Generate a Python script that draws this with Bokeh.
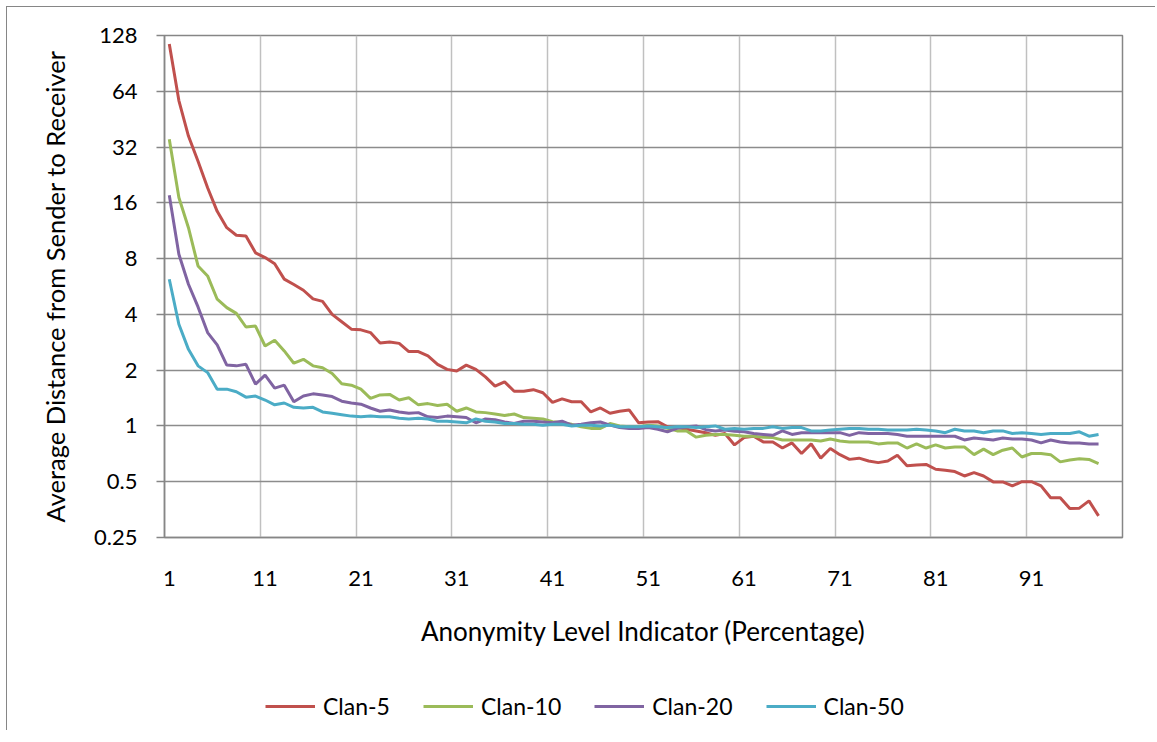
from bokeh.plotting import figure
from bokeh.models import Range1d, FixedTicker, Legend, LegendItem, ColumnDataSource
from bokeh.layouts import column
from bokeh.embed import file_html
from bokeh.resources import INLINE

x_vals = list(range(1, 99))

clan5 = [115, 57, 36.7, 26.8, 19.3, 14.4, 11.75, 10.7, 10.6, 8.6,
         8.1, 7.5, 6.2, 5.8, 5.4, 4.85, 4.7, 4.0, 3.65, 3.33,
         3.3, 3.19, 2.8, 2.84, 2.79, 2.52, 2.52, 2.39, 2.15, 2.02,
         1.98, 2.13, 2.02, 1.84, 1.64, 1.73, 1.54, 1.54, 1.57, 1.51,
         1.34, 1.40, 1.35, 1.35, 1.19, 1.25, 1.17, 1.20, 1.22, 1.04,
         1.05, 1.055, 0.99, 0.98, 0.96, 0.94, 0.92, 0.89, 0.91, 0.79,
         0.865, 0.88, 0.82, 0.82, 0.76, 0.81, 0.71, 0.80, 0.67, 0.755,
         0.70, 0.66, 0.67, 0.647, 0.634, 0.647, 0.695, 0.61, 0.616, 0.62,
         0.584, 0.577, 0.567, 0.537, 0.56, 0.537, 0.499, 0.499, 0.475, 0.50,
         0.50, 0.475, 0.41, 0.41, 0.358, 0.36, 0.394, 0.327]

clan10 = [35.3, 17.1, 11.75, 7.3, 6.45, 4.83, 4.35, 4.05, 3.42, 3.46,
          2.70, 2.90, 2.54, 2.18, 2.29, 2.11, 2.06, 1.92, 1.69, 1.66,
          1.58, 1.41, 1.47, 1.48, 1.38, 1.42, 1.30, 1.32, 1.29, 1.31,
          1.20, 1.25, 1.19, 1.18, 1.16, 1.14, 1.16, 1.11, 1.10, 1.09,
          1.055, 1.04, 1.02, 0.99, 0.97, 0.97, 1.03, 1.00, 0.99, 0.99,
          1.01, 1.00, 0.97, 0.94, 0.94, 0.87, 0.89, 0.90, 0.90, 0.89,
          0.88, 0.88, 0.87, 0.865, 0.84, 0.84, 0.84, 0.84, 0.83, 0.85,
          0.83, 0.82, 0.82, 0.82, 0.80, 0.81, 0.81, 0.76, 0.80, 0.76,
          0.79, 0.76, 0.77, 0.77, 0.70, 0.75, 0.70, 0.74, 0.76, 0.68,
          0.71, 0.71, 0.70, 0.64, 0.655, 0.665, 0.66, 0.626]

clan20 = [17.6, 8.45, 5.82, 4.39, 3.19, 2.74, 2.13, 2.11, 2.15, 1.68,
          1.88, 1.60, 1.66, 1.35, 1.45, 1.49, 1.47, 1.44, 1.36, 1.33,
          1.31, 1.25, 1.20, 1.22, 1.19, 1.17, 1.18, 1.12, 1.11, 1.13,
          1.12, 1.11, 1.04, 1.09, 1.08, 1.05, 1.03, 1.06, 1.06, 1.05,
          1.04, 1.06, 1.01, 1.02, 1.04, 1.05, 1.01, 0.98, 0.97, 0.97,
          0.98, 0.96, 0.93, 0.97, 0.99, 1.00, 0.955, 0.94, 0.95, 0.935,
          0.93, 0.91, 0.90, 0.89, 0.94, 0.90, 0.92, 0.92, 0.92, 0.92,
          0.92, 0.89, 0.92, 0.91, 0.91, 0.91, 0.90, 0.88, 0.88, 0.88,
          0.88, 0.88, 0.88, 0.84, 0.86, 0.85, 0.84, 0.86, 0.85, 0.85,
          0.84, 0.81, 0.84, 0.82, 0.81, 0.81, 0.80, 0.80]

clan50 = [6.19, 3.54, 2.59, 2.11, 1.94, 1.58, 1.58, 1.53, 1.43, 1.45,
          1.38, 1.30, 1.33, 1.26, 1.25, 1.26, 1.19, 1.17, 1.15, 1.13,
          1.12, 1.13, 1.12, 1.12, 1.10, 1.09, 1.10, 1.09, 1.06, 1.06,
          1.05, 1.04, 1.09, 1.06, 1.05, 1.03, 1.03, 1.02, 1.02, 1.01,
          1.02, 1.02, 1.00, 1.01, 1.01, 1.00, 1.01, 0.99, 0.99, 0.99,
          1.00, 0.99, 0.98, 0.99, 0.99, 0.98, 0.99, 1.00, 0.96, 0.97,
          0.96, 0.97, 0.97, 0.99, 0.97, 0.98, 0.98, 0.94, 0.94, 0.95,
          0.96, 0.97, 0.97, 0.96, 0.96, 0.95, 0.95, 0.95, 0.96, 0.95,
          0.94, 0.92, 0.96, 0.94, 0.94, 0.92, 0.94, 0.94, 0.91, 0.92,
          0.91, 0.90, 0.91, 0.91, 0.91, 0.93, 0.88, 0.90]

series_names = ["Clan-5", "Clan-10", "Clan-20", "Clan-50"]
series_colors = ["#C0504D", "#9BBB59", "#8064A2", "#4BACC6"]
y_ticks = [0.25, 0.5, 1, 2, 4, 8, 16, 32, 64, 128]
y_tick_labels = ["0.25", "0.5", "1", "2", "4", "8", "16", "32", "64", "128"]
x_ticks = [1, 11, 21, 31, 41, 51, 61, 71, 81, 91]
x_grid = [10.5, 20.5, 30.5, 40.5, 50.5, 60.5, 70.5, 80.5, 90.5]

FONT = "Lato"
W, H = 1148, 673
HL = 50

p = figure(width=W, height=H, y_axis_type="log", output_backend="svg",
           toolbar_location=None,
           x_range=Range1d(0.5, 100.5), y_range=Range1d(0.25, 128),
           min_border_left=157, min_border_right=33,
           min_border_top=28, min_border_bottom=H - 530)
p.background_fill_color = "white"
p.border_fill_color = "white"
p.outline_line_color = "#868686"
p.outline_line_width = 1.5

# axes
p.yaxis.ticker = FixedTicker(ticks=y_ticks, minor_ticks=[])
p.yaxis.major_label_overrides = {t: l for t, l in zip(y_ticks, y_tick_labels)}
p.xaxis.ticker = FixedTicker(ticks=x_ticks, minor_ticks=[])
for ax in (p.xaxis[0], p.yaxis[0]):
    ax.axis_line_color = "#868686"
    ax.axis_line_width = 1.5
    ax.major_tick_line_color = "#868686"
    ax.major_tick_line_width = 1.5
    ax.minor_tick_line_color = None
    ax.major_tick_in = 0
    ax.major_label_text_font = FONT
    ax.major_label_text_font_size = "22px"
    ax.major_label_text_color = "black"
    ax.axis_label_text_font = FONT
    ax.axis_label_text_font_style = "normal"
    ax.axis_label_text_color = "black"

p.yaxis.major_tick_out = 8
p.yaxis.major_label_standoff = 19
p.yaxis.axis_label = "Average Distance from Sender to Receiver"
p.yaxis.axis_label_text_font_size = "25.5px"
p.yaxis.axis_label_standoff = 21

p.xaxis.major_tick_out = 0
p.xaxis.major_label_standoff = 33
p.xaxis.axis_label = "Anonymity Level Indicator (Percentage)"
p.xaxis.axis_label_text_font_size = "26px"
p.xaxis.axis_label_standoff = 26

# grids
p.ygrid.ticker = FixedTicker(ticks=y_ticks, minor_ticks=[])
p.ygrid.grid_line_color = "#8c8c8c"
p.ygrid.grid_line_width = 1.5
p.xgrid.ticker = FixedTicker(ticks=x_grid, minor_ticks=[])
p.xgrid.grid_line_color = "#c0c0c0"
p.xgrid.grid_line_width = 1.5

src = ColumnDataSource(dict(x=x_vals, c5=clan5, c10=clan10, c20=clan20, c50=clan50))
for key, col in zip(["c5", "c10", "c20", "c50"], series_colors):
    p.line("x", key, source=src, line_color=col, line_width=3)

# legend strip below the chart: same series, drawn outside its visible range
pl = figure(width=W, height=HL, output_backend="svg", toolbar_location=None,
            x_range=Range1d(-20, -10), y_range=Range1d(0, 1),
            min_border=0, x_axis_location=None, y_axis_location=None)
pl.grid.visible = False
pl.outline_line_color = None
pl.background_fill_color = "white"
pl.border_fill_color = "white"
items = []
for key, name, col in zip(["c5", "c10", "c20", "c50"], series_names, series_colors):
    r = pl.line("x", key, source=src, line_color=col, line_width=3)
    items.append(LegendItem(label=name, renderers=[r]))
legend = Legend(items=items, orientation="horizontal", location=(101, 10),
                glyph_width=50, glyph_height=20, label_height=20,
                label_standoff=8, spacing=33, padding=5, margin=0,
                label_text_font=FONT, label_text_font_size="23px",
                label_text_color="black", border_line_color=None,
                background_fill_alpha=0)
pl.add_layout(legend, "center")

layout = column(p, pl, spacing=0,
                styles={"margin-left": "6px", "margin-top": "6px",
                        "border-left": "1px solid #868686",
                        "border-top": "1px solid #868686"})

open("out.html", "w").write(file_html(layout, INLINE))
